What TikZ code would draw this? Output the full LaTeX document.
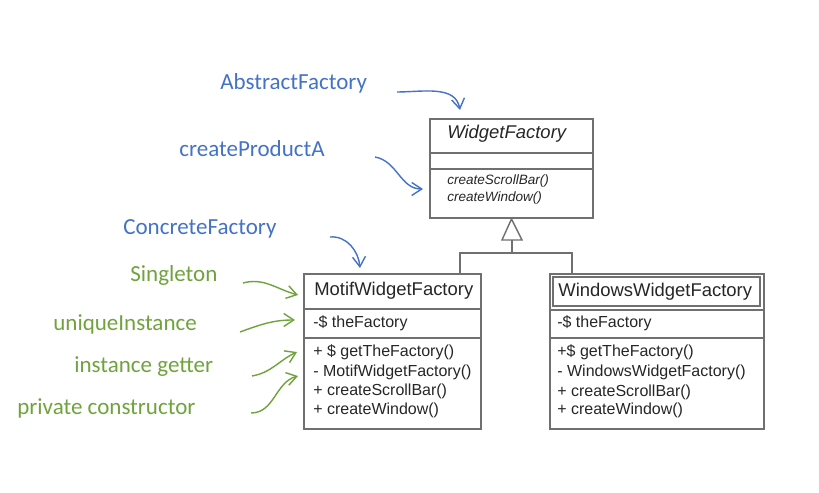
\documentclass[tikz,border=0pt]{standalone}
\usepackage{fontspec}
\setmainfont{Liberation Sans}
\newfontfamily\calibri{Carlito}
\usetikzlibrary{arrows.meta,fit}
\definecolor{noteblue}{RGB}{68,114,196}
\definecolor{notegreen}{RGB}{112,162,62}
\definecolor{umlgray}{RGB}{112,112,112}

\begin{document}
\begin{tikzpicture}[x=0.02cm, y=-0.02cm,
	classbox/.style={draw=umlgray, line width=1.1pt, inner sep=0pt, fit={#1}},
	sep/.style={umlgray, line width=0.9pt},
	cname/.style={anchor=base west, inner sep=0pt, text=black!85, font=\fontsize{10.5}{12}\selectfont},
	member/.style={anchor=base west, inner sep=0pt, text=black!85, font=\fontsize{9.1}{11}\selectfont},
	note/.style={anchor=base west, inner sep=0pt, font=\calibri\fontsize{13.1}{15}\selectfont},
	bluenote/.style={note, text=noteblue},
	greennote/.style={note, text=notegreen},
	pointer/.style={line width=0.8pt, -{Straight Barb[length=2mm, width=2.6mm]}}]
	\useasboundingbox (0,0) rectangle (819,493);

	% class boxes
	\node[classbox={(430,119) (593,218)}] (wf) {};
	\draw[sep] (430,153) -- (593,153);
	\draw[sep] (430,169) -- (593,169);
	\node[cname, font=\itshape\fontsize{10.5}{12}\selectfont] (wfname) at (447,139) {WidgetFactory};
	\node[member, font=\itshape\fontsize{7.7}{9}\selectfont] (wfm1) at (447,185) {createScrollBar()};
	\node[member, font=\itshape\fontsize{7.7}{9}\selectfont] (wfm2) at (447,202) {createWindow()};

	\node[classbox={(304,274) (481,429)}] (mwf) {};
	\draw[sep] (304,309) -- (481,309);
	\draw[sep] (304,338) -- (481,338);
	\node[cname] (mwfname) at (314,296) {MotifWidgetFactory};
	\node[member] (mwfa) at (313,328) {-\$ theFactory};
	\node[member] (mwfm1) at (313,357) {+ \$ getTheFactory()};
	\node[member] (mwfm2) at (313,377) {- MotifWidgetFactory()};
	\node[member] (mwfm3) at (313,396) {+ createScrollBar()};
	\node[member] (mwfm4) at (313,415) {+ createWindow()};

	\node[classbox={(550,274) (764,429)}] (wwf) {};
	\draw[umlgray, line width=0.6pt] (553,277) rectangle (760,306);
	\draw[sep] (550,310) -- (764,310);
	\draw[sep] (550,338) -- (764,338);
	\node[cname] (wwfname) at (558,297) {WindowsWidgetFactory};
	\node[member] (wwfa) at (557,328) {-\$ theFactory};
	\node[member] (wwfm1) at (557,357) {+\$ getTheFactory()};
	\node[member] (wwfm2) at (557,377) {- WindowsWidgetFactory()};
	\node[member] (wwfm3) at (557,397) {+ createScrollBar()};
	\node[member] (wwfm4) at (557,415) {+ createWindow()};

	% inheritance
	\coordinate (tribase) at (512,240);
	\coordinate (fork) at (512,253);
	\draw[umlgray, line width=0.8pt, fill=white] (wf.south) -- (502,240) -- (522,240) -- cycle;
	\draw[umlgray, line width=0.8pt] (tribase) -- (fork);
	\draw[umlgray, line width=0.8pt] (mwf.north -| 460,0) -- (460,253) -- (572,253) -- (wwf.north -| 572,0);

	% notes
	\node[bluenote] (abs) at (220,90) {AbstractFactory};
	\node[bluenote] (cpa) at (179,157) {createProductA};
	\node[bluenote] (conc) at (123,235) {ConcreteFactory};
	\node[greennote] (single) at (130,282) {Singleton};
	\node[greennote] (uniq) at (53,331) {uniqueInstance};
	\node[greennote] (getter) at (74,373) {instance getter};
	\node[greennote] (ctor) at (17,415) {private constructor};

	\coordinate (absA) at (397,92);   \coordinate (absB) at (460,110);
	\coordinate (cpaA) at (375,157);  \coordinate (cpaB) at (423,189);
	\coordinate (concA) at (330,237); \coordinate (concB) at (360,268);
	\coordinate (singA) at (243,283); \coordinate (singB) at (298,295);
	\coordinate (uniqA) at (240,332); \coordinate (uniqB) at (295,320);
	\coordinate (getA) at (252,376);  \coordinate (getB) at (297,352);
	\coordinate (ctorA) at (251,413); \coordinate (ctorB) at (298,376);

	\draw[pointer, noteblue] (absA) to[out=0, in=100] (absB);
	\draw[pointer, noteblue] (cpaA) to[out=-10, in=180] (cpaB);
	\draw[pointer, noteblue] (concA) to[out=5, in=95] (concB);
	\draw[pointer, notegreen] (singA) to[out=15, in=165] (singB);
	\draw[pointer, notegreen] (uniqA) to[out=20, in=180] (uniqB);
	\draw[pointer, notegreen] (getA) to[out=10, in=205] (getB);
	\draw[pointer, notegreen] (ctorA) to[out=0, in=195] (ctorB);
\end{tikzpicture}
\end{document}
